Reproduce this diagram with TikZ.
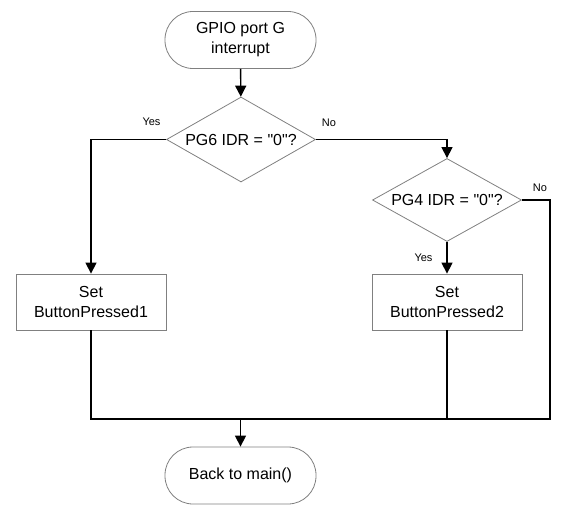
\documentclass[tikz,border=0pt]{standalone}
\usepackage{fontspec}
\setmainfont{Liberation Sans}[Ligatures=TeXOff]
\usetikzlibrary{shapes.geometric,arrows.meta}
\begin{document}
\begin{tikzpicture}[x=1pt,y=-1pt,
  shapeborder/.style={draw=black!50,line width=0.8pt,fill=white,font=\fontsize{16}{20}\selectfont,align=center,inner sep=0pt},
  term/.style={shapeborder,rounded corners=28pt,minimum width=151pt,minimum height=57pt},
  procbox/.style={shapeborder,minimum width=150pt,minimum height=56pt},
  decision/.style={shapeborder,diamond,aspect=1.75,minimum width=149pt,minimum height=85pt},
  conn/.style={line width=1.4pt,black},
  arr/.style={conn,-{Triangle[length=11pt,width=11pt]}},
  lbl/.style={font=\fontsize{11}{13}\selectfont,inner sep=0pt}]
\useasboundingbox (0,0) rectangle (565,516);
\node[term] (start) at (240.5,40) {GPIO port G\\interrupt};
\node[decision] (d1) at (241,139.5) {PG6 IDR = "0"?};
\node[decision,minimum height=83pt] (d2) at (447,200) {PG4 IDR = "0"?};
\node[procbox] (b1) at (91,302) {Set\\ButtonPressed1};
\node[procbox] (b2) at (447,302) {Set\\ButtonPressed2};
\node[term] (end) at (240.5,475.5) {Back to main()};
\coordinate (m) at (240.5,419);
\coordinate (r) at (550,200);
\draw[arr] (start) -- (d1);
\draw[arr] (d1.west) -| (b1.north);
\draw[arr] (d1.east) -| (d2.north);
\draw[arr] (d2) -- (b2);
\draw[conn] (b1.south) |- (m);
\draw[conn] (d2.east) -- (r) |- (m);
\draw[conn] (b2.south) -- (b2.south |- m);
\draw[arr] (m) -- (end.north);
\node[lbl] (y1) at (151.5,122) {Yes};
\node[lbl] (n1) at (329,122.5) {No};
\node[lbl] (n2) at (540,188) {No};
\node[lbl] (y2) at (423.5,257.5) {Yes};
\end{tikzpicture}
\end{document}
